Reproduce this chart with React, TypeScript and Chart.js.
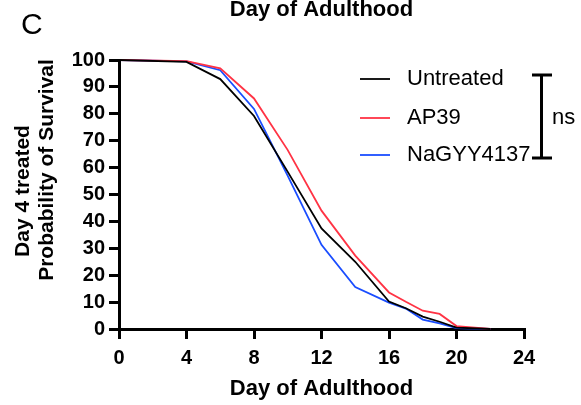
import React, { useEffect, useRef } from "react";
import { Chart, registerables } from "chart.js";

Chart.register(...registerables);

// Survival (%) by day of adulthood for day-4 treated animals
const days = [0, 4, 6, 8, 10, 12, 14, 16, 17, 18, 19, 20, 22];
const untreated = [100, 99.3, 92.9, 79.2, 58.4, 37.4, 25, 10.2, 7.7, 4.6, 2.7, 0.5, 0];
const ap39 = [100, 99.6, 96.9, 85.7, 66.5, 44, 27.3, 13.6, 10.1, 6.8, 5.6, 1.1, 0];
const nagyy4137 = [100, 99.5, 96.2, 81.8, 56.9, 31.3, 15.6, 9.8, 7.6, 3.5, 2.1, 0.3, 0];

const seriesNames = ["Untreated", "AP39", "NaGYY4137"];
const seriesColors = ["#000000", "#FF3344", "#1A4DFF"];

const xTicks = [0, 4, 8, 12, 16, 20, 24];
const yTicks = [0, 10, 20, 30, 40, 50, 60, 70, 80, 90, 100];

const xTitle = "Day of Adulthood";
const yTitleLines = ["Day 4 treated", "Probability of Survival"];
const panelLabel = "C";
const significance = "ns";

const FONT = "'Liberation Sans', Arial, Helvetica, sans-serif";
const W = 581;
const H = 405;

const decorations = {
  id: "decorations",
  afterDraw(chart: any) {
    const ctx = chart.ctx as CanvasRenderingContext2D;
    const area = chart.chartArea;
    const cx = (area.left + area.right) / 2;
    ctx.save();
    ctx.fillStyle = "#000";
    ctx.strokeStyle = "#000";

    // panel letter
    ctx.font = `30px ${FONT}`;
    ctx.textAlign = "left";
    ctx.textBaseline = "alphabetic";
    ctx.fillText(panelLabel, 21, 34);

    // heading running off the top edge
    ctx.font = `bold 22px ${FONT}`;
    ctx.textAlign = "center";
    ctx.fillText(xTitle, cx, 16);

    // x-axis title
    ctx.textBaseline = "middle";
    ctx.fillText(xTitle, cx, 389);

    // y-axis title, two rotated lines
    ctx.font = `bold 21px ${FONT}`;
    ctx.save();
    ctx.translate(23, 191);
    ctx.rotate(-Math.PI / 2);
    ctx.fillText(yTitleLines[0], 0, 0);
    ctx.restore();
    ctx.save();
    ctx.translate(47, 170);
    ctx.rotate(-Math.PI / 2);
    ctx.fillText(yTitleLines[1], 0, 0);
    ctx.restore();

    // legend
    ctx.font = `22px ${FONT}`;
    ctx.textAlign = "left";
    ctx.textBaseline = "middle";
    const rows = [79, 118, 155];
    seriesNames.forEach((name, i) => {
      ctx.strokeStyle = seriesColors[i];
      ctx.lineWidth = 1.8;
      ctx.beginPath();
      ctx.moveTo(360, rows[i]);
      ctx.lineTo(390, rows[i]);
      ctx.stroke();
      ctx.fillStyle = "#000";
      ctx.fillText(name, 407, rows[i]);
    });

    // significance bracket
    ctx.strokeStyle = "#000";
    ctx.lineWidth = 3;
    ctx.beginPath();
    ctx.moveTo(541.5, 75);
    ctx.lineTo(541.5, 158);
    ctx.moveTo(532, 75);
    ctx.lineTo(552, 75);
    ctx.moveTo(532, 158);
    ctx.lineTo(552, 158);
    ctx.stroke();
    ctx.fillText(significance, 552, 118);

    ctx.restore();
  },
};

export default function App() {
  const canvasRef = useRef<HTMLCanvasElement | null>(null);

  useEffect(() => {
    const canvas = canvasRef.current;
    if (!canvas) return;
    const series = [untreated, ap39, nagyy4137];
    const chart = new Chart(canvas, {
      type: "line",
      data: {
        datasets: series.map((vals, i) => ({
          label: seriesNames[i],
          data: days.map((d, j) => ({ x: d, y: vals[j] })),
          borderColor: seriesColors[i],
          backgroundColor: seriesColors[i],
          borderWidth: 1.8,
          pointRadius: 0,
          tension: 0,
          clip: false as any,
        })),
      },
      options: {
        responsive: false,
        animation: false,
        layout: { padding: { top: 60, right: 57, left: 0, bottom: 0 } },
        plugins: {
          legend: { display: false },
          tooltip: { enabled: false },
          title: { display: false },
        },
        scales: {
          x: {
            type: "linear",
            min: 0,
            max: 24,
            afterBuildTicks: (s: any) => {
              s.ticks = xTicks.map((v) => ({ value: v }));
            },
            afterFit: (s: any) => {
              s.height = H - 329;
            },
            ticks: {
              color: "#000",
              font: { family: FONT, size: 20, weight: "bold" },
              padding: 7,
              maxRotation: 0,
              autoSkip: false,
            },
            grid: {
              drawOnChartArea: false,
              drawTicks: true,
              tickLength: 10,
              lineWidth: 3,
              color: "#000",
            },
            border: { display: true, color: "#000", width: 3 },
          },
          y: {
            type: "linear",
            min: 0,
            max: 100,
            afterBuildTicks: (s: any) => {
              s.ticks = yTicks.map((v) => ({ value: v }));
            },
            afterFit: (s: any) => {
              s.width = 119;
            },
            ticks: {
              color: "#000",
              font: { family: FONT, size: 20, weight: "bold" },
              padding: 4,
              autoSkip: false,
            },
            grid: {
              drawOnChartArea: false,
              drawTicks: true,
              tickLength: 10,
              lineWidth: 3,
              color: "#000",
            },
            border: { display: true, color: "#000", width: 3 },
          },
        },
      },
      plugins: [decorations],
    });
    return () => chart.destroy();
  }, []);

  return (
    <div style={{ position: "fixed", left: 0, top: 0, width: W, height: H, background: "#fff" }}>
      <canvas ref={canvasRef} width={W} height={H} style={{ display: "block" }} />
    </div>
  );
}
